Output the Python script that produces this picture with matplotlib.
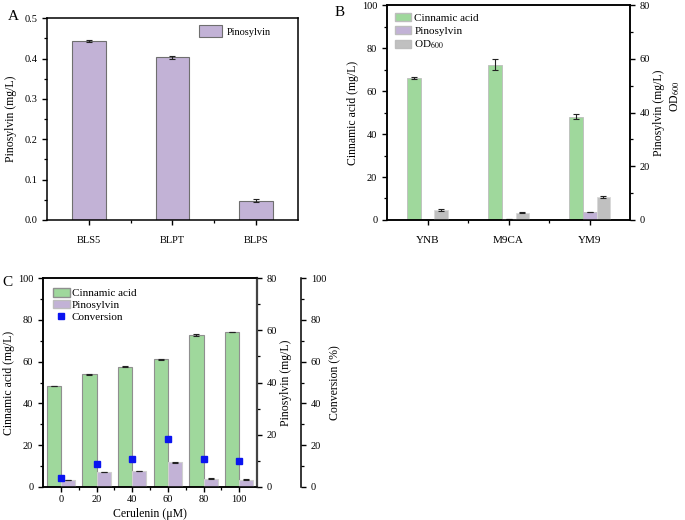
import matplotlib
matplotlib.use("Agg")
import matplotlib.pyplot as plt
import numpy as np
from matplotlib.patches import Patch
from matplotlib.lines import Line2D
from matplotlib.ticker import MultipleLocator

plt.rcParams['font.family'] = ['Liberation Serif', 'DejaVu Serif']
plt.rcParams['mathtext.fontset'] = 'stix'
plt.rcParams['font.size'] = 7.5
plt.rcParams['axes.linewidth'] = 1.1
plt.rcParams['xtick.direction'] = 'out'
plt.rcParams['ytick.direction'] = 'out'
plt.rcParams['xtick.major.size'] = 3.5
plt.rcParams['ytick.major.size'] = 3.5
plt.rcParams['xtick.minor.size'] = 2
plt.rcParams['ytick.minor.size'] = 2
plt.rcParams['xtick.major.width'] = 1.0
plt.rcParams['ytick.major.width'] = 1.0
plt.rcParams['xtick.minor.width'] = 0.9
plt.rcParams['ytick.minor.width'] = 0.9

# ---- data ----
a_strains = ['BLS5', 'BLPT', 'BLPS']
a_pinosylvin = [0.443, 0.403, 0.048]
a_pinosylvin_err = [0.003, 0.003, 0.003]

b_media = ['YNB', 'M9CA', 'YM9']
b_cinnamic = [66.3, 72.3, 48.0]
b_cinnamic_err = [0.5, 2.7, 1.2]
b_pinosylvin = [0.0, 0.2, 3.0]
b_pinosylvin_err = [0.0, 0.0, 0.1]
b_od600 = [3.6, 2.7, 8.6]
b_od600_err = [0.4, 0.15, 0.5]

c_cerulenin = ['0', '20', '40', '60', '80', '100']
c_cinnamic = [48.5, 53.9, 57.6, 61.1, 72.9, 74.2]
c_cinnamic_err = [0.1, 0.3, 0.2, 0.3, 0.5, 0.2]
c_pinosylvin = [2.55, 5.7, 6.1, 9.4, 3.2, 2.8]
c_pinosylvin_err = [0.05, 0.15, 0.15, 0.15, 0.1, 0.1]
c_conversion = [4.3, 11.2, 13.2, 23.0, 13.2, 12.6]

GREEN = '#9fd89c'
PURPLE = '#c2b2d6'
GREY = '#c0c0c0'
ERRKW = dict(ecolor='#222222', elinewidth=0.8, capsize=2, capthick=0.8)

fig = plt.figure(figsize=(6.85, 5.2), dpi=100)

# ---------------- Panel A ----------------
axA = fig.add_axes([0.0686, 0.577, 0.3664, 0.388])
xa = np.arange(1, len(a_strains) + 1)
axA.bar(xa, a_pinosylvin, width=0.4, color=PURPLE, edgecolor='#6f6f6f', linewidth=0.8,
        yerr=a_pinosylvin_err, error_kw=ERRKW, label='Pinosylvin')
axA.set_xlim(0.5, 3.5)
axA.set_ylim(0, 0.5)
axA.set_xticks(xa)
axA.set_xticklabels(a_strains)
axA.set_xticks([1.5, 2.5], minor=True)
axA.yaxis.set_major_locator(MultipleLocator(0.1))
axA.yaxis.set_minor_locator(MultipleLocator(0.05))
axA.yaxis.set_major_formatter(matplotlib.ticker.FormatStrFormatter('%.1f'))
axA.set_ylabel('Pinosylvin (mg/L)', fontsize=8.5, labelpad=5)
axA.tick_params(axis='x', pad=8)
axA.legend(loc='upper right', frameon=False, fontsize=7.5, handlelength=2.2, handleheight=1.3,
           handletextpad=0.4, borderaxespad=0.3, bbox_to_anchor=(0.92, 1.0))
fig.text(0.012, 0.968, 'A', fontsize=11, va='center')

# ---------------- Panel B ----------------
axB = fig.add_axes([0.565, 0.577, 0.355, 0.413])
axB2 = axB.twinx()
xb = np.arange(len(b_media))
w = 0.17
axB.bar(xb - w, b_cinnamic, width=w, color=GREEN, edgecolor='#bdbdbd', linewidth=0.6,
        yerr=b_cinnamic_err, error_kw=ERRKW)
axB2.bar(xb, b_pinosylvin, width=w, color=PURPLE, edgecolor='#bdbdbd', linewidth=0.6,
         yerr=b_pinosylvin_err, error_kw=ERRKW)
axB2.bar(xb + w, b_od600, width=w, color=GREY, edgecolor='#d8d8d8', linewidth=0.6,
         yerr=b_od600_err, error_kw=ERRKW)
axB.set_xlim(-0.5, 2.5)
axB.set_ylim(0, 100)
axB2.set_ylim(0, 80)
axB.set_xticks(xb)
axB.set_xticklabels(b_media, fontsize=8)
axB.set_xticks([0.5, 1.5], minor=True)
axB.tick_params(axis='x', pad=8)
axB.yaxis.set_major_locator(MultipleLocator(20))
axB.yaxis.set_minor_locator(MultipleLocator(10))
axB2.yaxis.set_major_locator(MultipleLocator(20))
axB2.yaxis.set_minor_locator(MultipleLocator(10))
axB.set_ylabel('Cinnamic acid (mg/L)', fontsize=8.5, labelpad=2)
axB2.set_ylabel('Pinosylvin (mg/L)', fontsize=8.5, labelpad=2)
fig.text(0.986, 0.815, 'OD$_{600}$', rotation=90, fontsize=8.5,
         ha='center', va='center')
hB = [Patch(facecolor=GREEN, edgecolor='#bdbdbd', label='Cinnamic acid'),
      Patch(facecolor=PURPLE, edgecolor='#bdbdbd', label='Pinosylvin'),
      Patch(facecolor=GREY, edgecolor='#bdbdbd', label='OD$_{600}$')]
axB.legend(handles=hB, loc='upper left', frameon=False, fontsize=8, handlelength=1.5,
           handleheight=0.8, labelspacing=0.25, handletextpad=0.25, borderaxespad=0.3)
fig.text(0.488, 0.975, 'B', fontsize=11, va='center')

# ---------------- Panel C ----------------
axC = fig.add_axes([0.0628, 0.0635, 0.3124, 0.4015])
axC2 = axC.twinx()
axC3 = axC.twinx()
xc = np.arange(len(c_cerulenin))
axC.bar(xc - 0.2, c_cinnamic, width=0.4, color=GREEN, edgecolor='#8f8f8f', linewidth=0.8,
        yerr=c_cinnamic_err, error_kw=ERRKW)
axC2.bar(xc + 0.2, c_pinosylvin, width=0.4, color=PURPLE, edgecolor='#d0d0d0', linewidth=0.8,
         yerr=c_pinosylvin_err, error_kw=ERRKW)
axC3.plot(xc, c_conversion, linestyle='none', marker='s', markersize=4,
          color='#0a14f0', markeredgecolor='#0a14f0', zorder=5)
axC.set_xlim(-0.5, 5.5)
axC.set_ylim(0, 100)
axC2.set_ylim(0, 80)
axC3.set_ylim(0, 100)
axC.set_xticks(xc)
axC.set_xticklabels(c_cerulenin)
axC.set_xticks(xc[:-1] + 0.5, minor=True)
axC.tick_params(axis='x', pad=2)
for a in (axC, axC3):
    a.yaxis.set_major_locator(MultipleLocator(20))
    a.yaxis.set_minor_locator(MultipleLocator(10))
axC2.yaxis.set_major_locator(MultipleLocator(20))
axC2.yaxis.set_minor_locator(MultipleLocator(10))
axC2.spines['right'].set_color('#444444')
axC2.spines['right'].set_linewidth(1.6)
axC3.spines['right'].set_position(('axes', 1.206))
for s in ('top', 'bottom', 'left'):
    axC3.spines[s].set_visible(False)
axC.set_ylabel('Cinnamic acid (mg/L)', fontsize=8.5, labelpad=2)
axC2.set_ylabel('Pinosylvin (mg/L)', fontsize=8.5, labelpad=2)
axC3.set_ylabel('Conversion (%)', fontsize=8.5, labelpad=2)
axC.set_xlabel('Cerulenin (\u03bcM)', fontsize=8.5, labelpad=3)
hC = [Patch(facecolor=GREEN, edgecolor='#8f8f8f', label='Cinnamic acid'),
      Patch(facecolor=PURPLE, edgecolor='#bdbdbd', label='Pinosylvin'),
      Line2D([], [], linestyle='none', marker='s', markersize=4, color='#0a14f0',
             label='Conversion')]
axC3.legend(handles=hC, loc='upper left', frameon=False, fontsize=8, handlelength=1.5,
            handleheight=0.8, labelspacing=0.15, handletextpad=0.2, borderaxespad=0.5,
            bbox_to_anchor=(0.0, 1.0))
fig.text(0.004, 0.456, 'C', fontsize=11, va='center')

fig.savefig('out.png', dpi=100)
